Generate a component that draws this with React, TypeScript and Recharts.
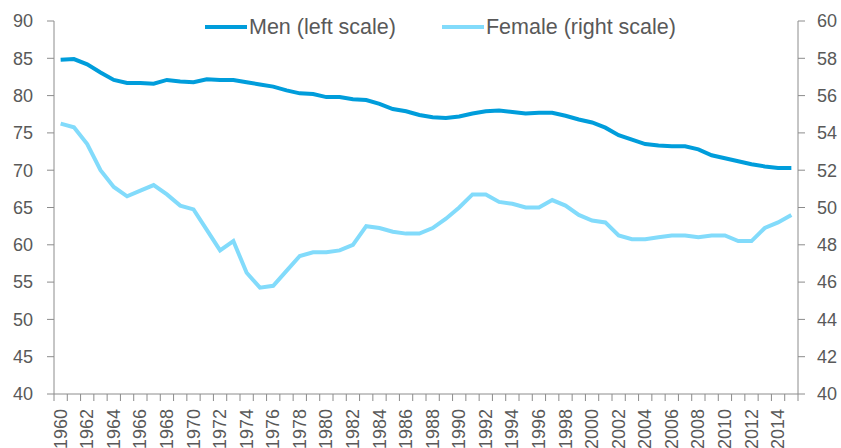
import React from 'react';
import { LineChart, Line, XAxis, YAxis } from 'recharts';

const years = [
    1960, 1961, 1962, 1963, 1964, 1965, 1966, 1967, 1968, 1969,
    1970, 1971, 1972, 1973, 1974, 1975, 1976, 1977, 1978, 1979,
    1980, 1981, 1982, 1983, 1984, 1985, 1986, 1987, 1988, 1989,
    1990, 1991, 1992, 1993, 1994, 1995, 1996, 1997, 1998, 1999,
    2000, 2001, 2002, 2003, 2004, 2005, 2006, 2007, 2008, 2009,
    2010, 2011, 2012, 2013, 2014, 2015,
];

// left scale
const men = [
    84.8, 84.9, 84.2, 83.1, 82.1, 81.7, 81.7, 81.6, 82.1, 81.9,
    81.8, 82.2, 82.1, 82.1, 81.8, 81.5, 81.2, 80.7, 80.3, 80.2,
    79.8, 79.8, 79.5, 79.4, 78.9, 78.2, 77.9, 77.4, 77.1, 77.0,
    77.2, 77.6, 77.9, 78.0, 77.8, 77.6, 77.7, 77.7, 77.3, 76.8,
    76.4, 75.7, 74.7, 74.1, 73.5, 73.3, 73.2, 73.2, 72.8, 72.0,
    71.6, 71.2, 70.8, 70.5, 70.3, 70.3,
];

// right scale
const female = [
    54.5, 54.3, 53.4, 52.0, 51.1, 50.6, 50.9, 51.2, 50.7, 50.1,
    49.9, 48.8, 47.7, 48.2, 46.5, 45.7, 45.8, 46.6, 47.4, 47.6,
    47.6, 47.7, 48.0, 49.0, 48.9, 48.7, 48.6, 48.6, 48.9, 49.4,
    50.0, 50.7, 50.7, 50.3, 50.2, 50.0, 50.0, 50.4, 50.1, 49.6,
    49.3, 49.2, 48.5, 48.3, 48.3, 48.4, 48.5, 48.5, 48.4, 48.5,
    48.5, 48.2, 48.2, 48.9, 49.2, 49.6,
];

const leftTicks = [40, 45, 50, 55, 60, 65, 70, 75, 80, 85, 90];
const rightTicks = [40, 42, 44, 46, 48, 50, 52, 54, 56, 58, 60];

const MEN_COLOR = '#009ddb';
const FEMALE_COLOR = '#82dbfb';
const TEXT = '#595959';
const AXIS = '#8c8c8c';
const FONT = '"Liberation Sans", Arial, sans-serif';

const data = years.map((y, i) => ({ year: y, men: men[i], female: female[i] }));

function YearTick(props: any) {
    const { x, y, payload, index } = props;
    const half = payload && payload.offset ? payload.offset : 6.64;
    const isLast = index === years.length - 1;
    const ty = y + 7;
    return (
        <g>
            <line x1={x - half} x2={x - half} y1={y - 8} y2={y - 1} stroke={AXIS} strokeWidth={1} />
            {isLast && <line x1={x + half} x2={x + half} y1={y - 8} y2={y - 1} stroke={AXIS} strokeWidth={1} />}
            {payload.value % 2 === 0 && (
                <text
                    x={x}
                    y={ty}
                    transform={`rotate(-90, ${x}, ${ty})`}
                    textAnchor="end"
                    dominantBaseline="central"
                    fill={TEXT}
                    fontSize={18}
                    fontFamily={FONT}
                >
                    {payload.value}
                </text>
            )}
        </g>
    );
}

function LegendBox() {
    const items = [
        { label: 'Men (left scale)', color: MEN_COLOR },
        { label: 'Female (right scale)', color: FEMALE_COLOR },
    ];
    return (
        <div
            style={{
                position: 'absolute', left: 205, top: 14, display: 'flex', alignItems: 'center',
                fontFamily: FONT, fontSize: 21.5, color: TEXT, lineHeight: '26px', whiteSpace: 'nowrap',
            }}
        >
            {items.map((it, i) => (
                <div key={it.label} style={{ display: 'flex', alignItems: 'center', marginRight: i === 0 ? 46 : 0 }}>
                    <span style={{ display: 'inline-block', width: 42, height: 4, background: it.color, marginRight: 2 }} />
                    <span>{it.label}</span>
                </div>
            ))}
        </div>
    );
}

export default function App() {
    return (
        <div style={{ position: 'absolute', left: 0, top: 0, width: 841, height: 448, background: '#fff', overflow: 'hidden' }}>
            <LineChart width={841} height={448} data={data} margin={{ top: 21, right: 0, bottom: 0, left: 0 }}>
                <XAxis
                    dataKey="year"
                    scale="band"
                    interval={0}
                    height={54}
                    tickLine={false}
                    axisLine={{ stroke: AXIS }}
                    tick={<YearTick />}
                />
                <YAxis
                    yAxisId="left"
                    width={54}
                    domain={[40, 90]}
                    ticks={leftTicks}
                    interval={0}
                    axisLine={{ stroke: AXIS }}
                    tickLine={{ stroke: AXIS }}
                    tickSize={7}
                    tickMargin={14}
                    tick={{ fill: TEXT, fontSize: 18, fontFamily: FONT }}
                />
                <YAxis
                    yAxisId="right"
                    orientation="right"
                    width={43}
                    domain={[40, 60]}
                    ticks={rightTicks}
                    interval={0}
                    axisLine={{ stroke: AXIS }}
                    tickLine={{ stroke: AXIS }}
                    tickSize={7}
                    tickMargin={12}
                    tick={{ fill: TEXT, fontSize: 18, fontFamily: FONT }}
                />
                <Line yAxisId="left" dataKey="men" stroke={MEN_COLOR} strokeWidth={4} dot={false} isAnimationActive={false} />
                <Line yAxisId="right" dataKey="female" stroke={FEMALE_COLOR} strokeWidth={4} dot={false} isAnimationActive={false} />
            </LineChart>
            <LegendBox />
        </div>
    );
}
